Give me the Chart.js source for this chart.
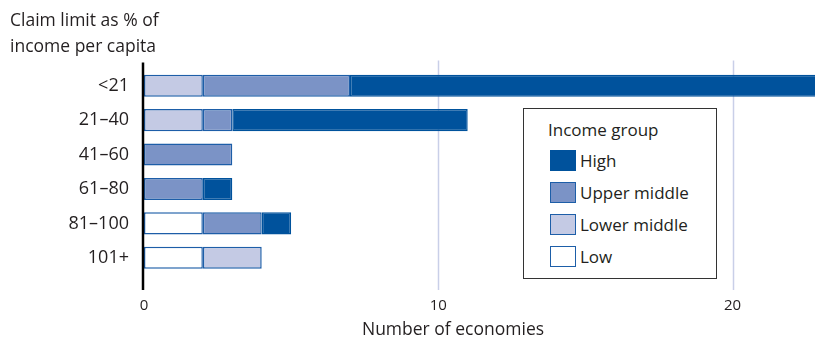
<!DOCTYPE html>
<html>
<head>
<meta charset="utf-8">
<script src="https://cdn.jsdelivr.net/npm/chart.js@4.4.0/dist/chart.umd.min.js"></script>
<style>
  body { margin: 0; background: #fff; }
  #wrap { position: relative; width: 815px; height: 343px; font-family: 'Open Sans', sans-serif; color: #231f20; }
  #legendBox { position: absolute; left: 523px; top: 108px; width: 192px; height: 169px; border: 1.5px solid #333; background: #fff; }
  #legendBox .ttl { position: absolute; left: 24px; top: 9px; font-size: 17px; }
  #legendBox .row { position: absolute; left: 26px; height: 22px; display: flex; align-items: center; font-size: 17px; }
  #legendBox .sw { width: 24px; height: 19px; border: 1.5px solid #1d5ea8; margin-right: 4px; box-sizing: content-box; }
</style>
</head>
<body>
<div id="wrap">
  <canvas id="claimChart"></canvas>
  <div id="legendBox"><div class="ttl">Income group</div></div>
</div>
<script>
// categories (claim limit as % of income per capita)
const categories = ['<21', '21\u201340', '41\u201360', '61\u201380', '81\u2013100', '101+'];

// number of economies per income group
const low = [0, 0, 0, 0, 2, 2];
const lowerMiddle = [2, 2, 0, 0, 0, 2];
const upperMiddle = [5, 1, 3, 2, 2, 0];
const high = [16, 8, 0, 1, 1, 0];

const xTicks = [0, 10, 20];

const seriesNames = ['Low', 'Lower middle', 'Upper middle', 'High'];
const seriesData = [low, lowerMiddle, upperMiddle, high];
const fills = ['#ffffff', '#c4cae4', '#7b93c6', '#00529c'];
const edges = ['#1d5ea8', '#1d5ea8', '#1d5ea8', '#00529c'];

// gridlines + thick zero axis, drawn longer than the plot area like the original
const axisLines = {
    id: 'axisLines',
    beforeDatasetsDraw(chart) {
        const { ctx, chartArea, scales } = chart;
        ctx.save();
        ctx.strokeStyle = '#c9cfe8';
        ctx.lineWidth = 1.5;
        xTicks.filter(v => v > 0).forEach(v => {
            const px = Math.round(scales.x.getPixelForValue(v)) + 0.5;
            ctx.beginPath();
            ctx.moveTo(px, chartArea.top - 8);
            ctx.lineTo(px, chartArea.bottom + 15);
            ctx.stroke();
        });
        ctx.restore();
    },
    afterDatasetsDraw(chart) {
        const { ctx, chartArea, scales } = chart;
        const px = scales.x.getPixelForValue(0) - 1;
        ctx.save();
        ctx.strokeStyle = '#000';
        ctx.lineWidth = 2.5;
        ctx.beginPath();
        ctx.moveTo(px, chartArea.top - 6);
        ctx.lineTo(px, chartArea.bottom + 15);
        ctx.stroke();
        ctx.restore();
    }
};

const ctx = document.getElementById('claimChart').getContext('2d');
const chart = new Chart(ctx, {
    type: 'bar',
    data: {
        labels: categories,
        datasets: seriesNames.map((name, i) => ({
            label: name,
            data: seriesData[i],
            backgroundColor: fills[i],
            borderColor: edges[i],
            borderWidth: 1.5,
            borderSkipped: false,
            barPercentage: 0.64,
            categoryPercentage: 1,
            clip: false // the top bar runs off the right edge
        }))
    },
    options: {
        indexAxis: 'y',
        responsive: true,
        maintainAspectRatio: false,
        animation: false,
        layout: { padding: { left: 10, right: 53, top: 0, bottom: 0 } },
        plugins: {
            legend: { display: false },
            tooltip: { enabled: false },
            title: {
                display: true,
                align: 'start',
                text: ['Claim limit as % of', 'income per capita'],
                color: '#231f20',
                font: { family: 'Open Sans', size: 17.5, weight: 'normal', lineHeight: 1.5 },
                padding: { top: 8, bottom: 8 }
            }
        },
        scales: {
            x: {
                stacked: true,
                min: 0,
                max: 21,
                grid: { display: false },
                border: { display: false },
                ticks: {
                    stepSize: 10,
                    includeBounds: false,
                    padding: 14,
                    color: '#231f20',
                    font: { family: 'Open Sans', size: 15 }
                },
                title: {
                    display: true,
                    text: 'Number of economies',
                    color: '#231f20',
                    font: { family: 'Open Sans', size: 17.5 },
                    padding: { top: 0, bottom: 2 }
                },
                afterFit: s => { s.height = 68; }
            },
            y: {
                stacked: true,
                grid: { display: false },
                border: { display: false },
                ticks: {
                    padding: 7,
                    color: '#231f20',
                    font: { family: 'Open Sans', size: 18 }
                },
                afterFit: s => { s.width = 134; }
            }
        }
    },
    plugins: [axisLines]
});

// legend built from the datasets, High first
const box = document.getElementById('legendBox');
chart.data.datasets.slice().reverse().forEach((ds, i) => {
    const row = document.createElement('div');
    row.className = 'row';
    row.style.top = (40 + i * 32) + 'px';
    const sw = document.createElement('span');
    sw.className = 'sw';
    sw.style.background = ds.backgroundColor;
    sw.style.borderColor = ds.borderColor;
    row.appendChild(sw);
    row.appendChild(document.createTextNode(ds.label));
    box.appendChild(row);
});
</script>
</body>
</html>
